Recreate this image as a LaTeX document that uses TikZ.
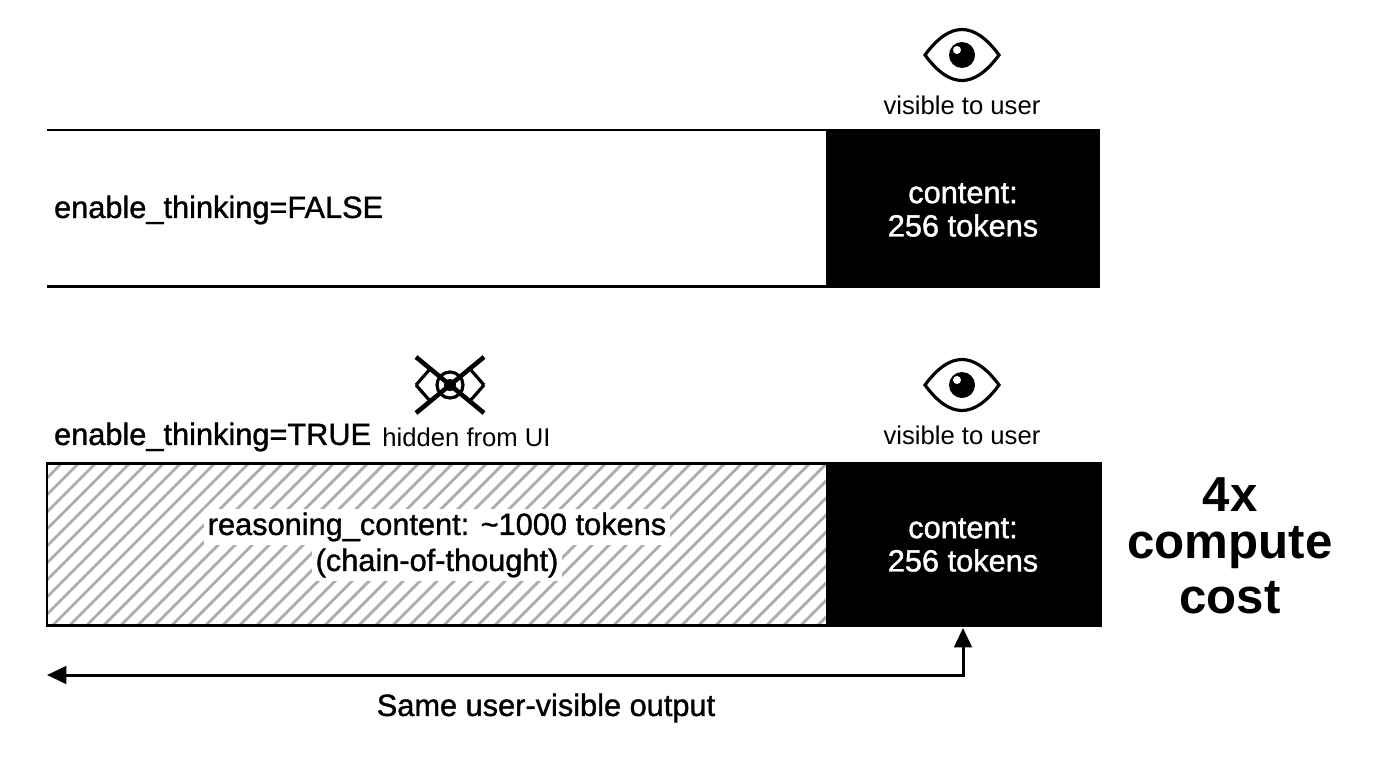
\documentclass[tikz,border=0pt]{standalone}
\usepackage{fontspec}
\setmainfont{Liberation Sans}
\usetikzlibrary{positioning,arrows.meta,calc}

\tikzset{
    lbl/.style={font=\addfontfeature{FakeBold=1.2}\fontsize{17.5}{19}\selectfont, inner sep=1pt},
    small/.style={font=\fontsize{14.6}{16}\selectfont, inner sep=1pt},
    big/.style={font=\bfseries\fontsize{28}{30}\selectfont, inner sep=0pt},
    bar/.style={line width=1.7pt},
    hatch/.style={gray!65, line width=1.6pt},
    eye/.style={line width=1.8pt}
}

\newcommand{\eyeicon}[1]{%
    \draw[eye] ($(#1)+(-37,0)$) .. controls ($(#1)+(-12,-34)$) and ($(#1)+(12,-34)$) .. ($(#1)+(37,0)$)
        .. controls ($(#1)+(12,34)$) and ($(#1)+(-12,34)$) .. ($(#1)+(-37,0)$) -- cycle;
    \fill ($(#1)+(0,0)$) circle (13);
    \fill[white] ($(#1)+(-5,-5)$) circle (4);
}

\begin{document}
\begin{tikzpicture}[x=0.02cm, y=-0.02cm, >={Triangle[length=11pt,width=10pt]}]
\useasboundingbox (0,0) rectangle (1376,768);

% top bar
\fill (826,130) rectangle (1100,286);
\draw[bar] (47,130) -- (1100,130);
\draw[bar] (47,286) -- (1100,286);
\node[lbl, anchor=west] (falsel) at (52,210) {enable\_thinking=FALSE};
\node[lbl, text=white, align=center] (cont1) at (963,210) {content:\\256 tokens};

% top eye
\coordinate (eye1) at (962,55);
\eyeicon{eye1}
\node[small] (vis1) at (962,105) {visible to user};

% bottom bar, hatched part
\begin{scope}
    \clip (47,463) rectangle (826,625);
    \foreach \i in {-200,-183,...,840}
        \draw[hatch] (\i,640) -- (\i+190,450);
\end{scope}
\fill (826,463) rectangle (1100,625);
\draw[bar] (47,463) rectangle (1100,625);
\node[lbl, fill=white, inner sep=2pt] (reas) at (437,527) {reasoning\_content: \textasciitilde1000 tokens};
\node[lbl, fill=white, inner sep=2pt] (cot) at (437,563) {(chain-of-thought)};
\node[lbl, text=white, align=center] (cont2) at (963,545) {content:\\256 tokens};

\node[lbl, anchor=west] (truel) at (52,437) {enable\_thinking=TRUE};
\node[small, right=4pt of truel] (hid) {hidden from UI};

% bottom eye
\coordinate (eye2) at (962,385);
\eyeicon{eye2}
\node[small] (vis2) at (962,435) {visible to user};

% hidden eye
\coordinate (eye3) at (450,385);
\draw[eye] ($(eye3)+(-34,0)$) -- ($(eye3)+(-20,-16)$);
\draw[eye] ($(eye3)+(-34,0)$) -- ($(eye3)+(-20,16)$);
\draw[eye] ($(eye3)+(34,0)$) -- ($(eye3)+(20,-16)$);
\draw[eye] ($(eye3)+(34,0)$) -- ($(eye3)+(20,16)$);
\draw[eye] (eye3) circle (13);
\fill (eye3) circle (6);
\draw[line width=2.6pt] ($(eye3)+(-34,-28)$) -- ($(eye3)+(34,28)$);
\draw[line width=2.6pt] ($(eye3)+(34,-28)$) -- ($(eye3)+(-34,28)$);

% cost
\node[big] (fourx) at (1230,495) {4x};
\node[big] (comp) at (1230,548) {compute};
\node[big] (cost) at (1230,598) {cost};

% arrow
\coordinate (arrl) at (47,675);
\coordinate (arrt) at (963,628);
\draw[line width=1.7pt, <->] (arrl) -| (arrt);
\node[lbl] (same) at (546,708) {Same user-visible output};
\end{tikzpicture}
\end{document}
